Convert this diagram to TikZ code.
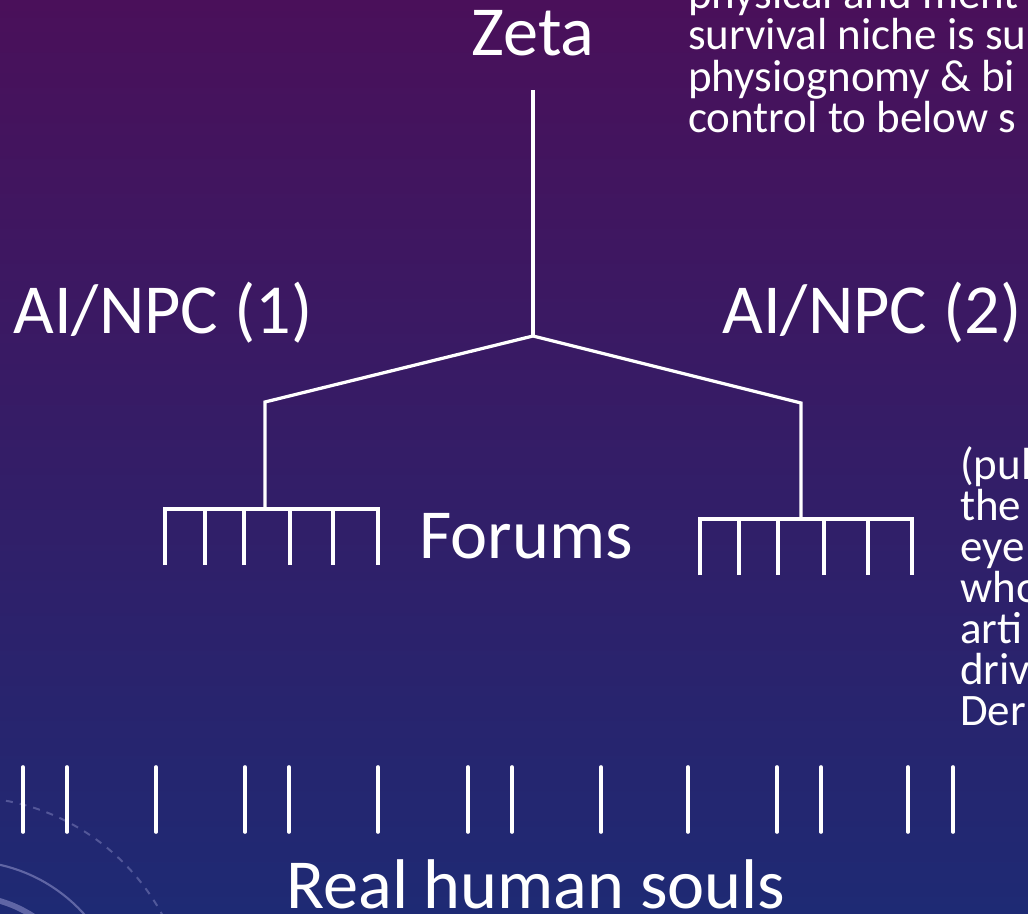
\documentclass[tikz,border=0pt]{standalone}
\usepackage{fontspec}
\setmainfont{Carlito}

\definecolor{bgtop}{RGB}{74,16,90}
\definecolor{bgmid}{RGB}{46,26,104}
\definecolor{bgbot}{RGB}{30,42,116}
\definecolor{ring}{RGB}{175,175,225}

\tikzset{
	tree/.style={white, line width=2.3pt, line join=miter},
	tooth/.style={white, line width=2.6pt, line cap=round},
	biglabel/.style={white, font=\fontsize{50}{52}\selectfont, inner sep=0pt, anchor=base},
	noteline/.style={white, font=\fontsize{32}{34}\selectfont, inner sep=0pt, anchor=base west}
}

\begin{document}
\begin{tikzpicture}[x=0.025cm, y=-0.025cm]
	\useasboundingbox (0,0) rectangle (1028,914);
	\shade[top color=bgtop, middle color=bgmid, bottom color=bgbot] (0,0) rectangle (1028,914);

	% rings in the corner
	\draw[ring, opacity=0.35, line width=1.4pt, dash pattern=on 5pt off 5pt] (-35,1021) circle (224);
	\draw[ring, opacity=0.45, line width=1.5pt] (-35,1021) circle (160);
	\draw[ring, opacity=0.45, line width=4pt] (-35,1021) circle (125);

	% labels
	\node[biglabel] (zeta) at (533,55) {Zeta};
	\node[biglabel] (ai1) at (163,333) {AI/NPC (1)};
	\node[biglabel] (ai2) at (872,333) {AI/NPC (2)};
	\node[biglabel] (forums) at (526,558) {Forums};
	\node[biglabel] (souls) at (536,908) {Real human souls};

	% tree
	\coordinate (stem) at (533,90);
	\coordinate (fork) at (533,336);
	\coordinate (lknee) at (265,402);
	\coordinate (rknee) at (801,403);
	\coordinate (lcomb) at (265,509);
	\coordinate (rcomb) at (801,519);
	\draw[tree] (stem) -- (fork);
	\draw[tree] (lcomb) -- (lknee) -- (fork) -- (rknee) -- (rcomb);

	% left comb
	\draw[tree] (165,565) -- (165,509) -- (378,509) -- (378,565);
	\foreach \x in {205,244,290,333}
		\draw[tree] (\x,509) -- (\x,565);

	% right comb
	\draw[tree] (700,575) -- (700,519) -- (912,519) -- (912,575);
	\foreach \x in {739,778,824,868}
		\draw[tree] (\x,519) -- (\x,575);

	% souls
	\foreach \x in {23,67,156,245,289,378,468,512,601,688,777,821,908,953}
		\draw[tooth] (\x,767) -- (\x,832);

	% notes
	\foreach \t [count=\i] in {physical and ment, survival niche is su, physiognomy \& bi, control to below s}
		\node[noteline] (top\i) at (688,{9+41*(\i-1)}) {\t};
	\foreach \t [count=\i] in {{(pul}, the, eye, who, arti, driv, Der}
		\node[noteline] (side\i) at (960,{479+41*(\i-1)}) {\t};
\end{tikzpicture}
\end{document}
